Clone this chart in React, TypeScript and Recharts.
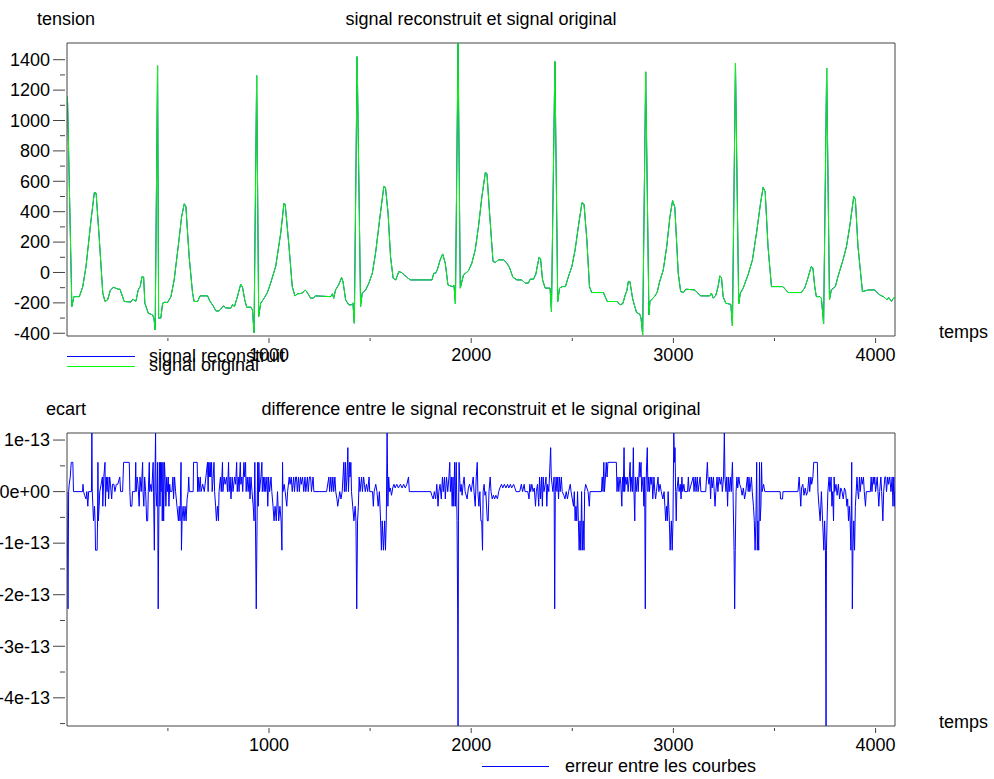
import { LineChart, Line, XAxis, YAxis, ReferenceLine } from 'recharts'

// Scilab style figure: ECG signal (original vs reconstructed) and the error between them.
const FONT = "'Liberation Sans', Arial, Helvetica, sans-serif"

// sample index, tension
const signalOriginal: [number, number][] = [
  [1, 1160], [4, 1120], [25, -224], [35, -159], [62, -159], [79, -93], [95, 39], [120, 346], [136, 526], [145, 522],
  [161, 215], [178, -136], [189, -191], [202, -180], [215, -119], [230, -97], [255, -110], [263, -110], [284, -191], [317, -194],
  [327, -176], [342, -189], [353, -115], [363, -93], [372, -27], [380, -30], [386, -202], [403, -268], [424, -279], [431, -301],
  [437, -378], [449, 1360], [454, -301], [465, -300], [474, -202], [485, -196], [498, -198], [515, -159], [531, -49], [551, 171],
  [568, 368], [581, 452], [589, 434], [605, 105], [622, -136], [630, -191], [647, -191], [659, -154], [696, -154], [708, -189],
  [726, -224], [737, -253], [753, -253], [775, -220], [786, -233], [811, -235], [820, -211], [829, -225], [844, -159], [860, -77],
  [869, -97], [880, -180], [890, -229], [910, -228], [918, -246], [926, -396], [939, 1295], [949, -290], [959, -202], [976, -169],
  [992, -132], [1008, -70], [1033, 39], [1058, 259], [1074, 456], [1080, 450], [1099, 171], [1115, -93], [1128, -154], [1141, -141],
  [1165, -136], [1178, -115], [1186, -125], [1206, -169], [1218, -169], [1231, -154], [1305, -159], [1314, -140], [1320, -170], [1329, -115],
  [1345, -80], [1359, -33], [1366, -60], [1379, -180], [1395, -213], [1408, -213], [1415, -200], [1422, -334], [1436, 1420], [1453, -224],
  [1461, -136], [1478, -115], [1494, -70], [1511, -5], [1527, 127], [1551, 390], [1568, 566], [1576, 560], [1589, 390], [1601, 105],
  [1614, -38], [1627, -49], [1642, 6], [1655, 0], [1669, -15], [1680, -30], [1699, -49], [1806, -49], [1815, -5], [1824, -5],
  [1833, 20], [1846, 80], [1859, 122], [1872, 60], [1885, -82], [1907, -93], [1915, -85], [1922, -207], [1935, 1510], [1946, -103],
  [1962, -16], [1986, 10], [2003, 61], [2020, 149], [2036, 302], [2053, 500], [2070, 658], [2078, 650], [2091, 390], [2108, 72],
  [2120, 67], [2135, 83], [2160, 83], [2177, 61], [2190, 30], [2206, -31], [2226, -49], [2250, -49], [2267, -70], [2283, -70],
  [2292, -44], [2308, -44], [2320, -10], [2325, 28], [2336, 101], [2343, 90], [2353, -49], [2366, -103], [2390, -103], [2397, -257],
  [2414, 1388], [2428, -191], [2437, -103], [2450, -93], [2466, -93], [2481, -27], [2498, 39], [2514, 149], [2530, 302], [2548, 460],
  [2558, 450], [2572, 215], [2585, -93], [2596, -132], [2654, -132], [2673, -191], [2722, -191], [2736, -213], [2750, -205], [2762, -147],
  [2770, -120], [2777, -60], [2785, -60], [2798, -169], [2806, -210], [2818, -264], [2834, -275], [2840, -300], [2848, -411], [2863, 1320],
  [2879, -279], [2884, -191], [2909, -154], [2920, -130], [2930, -70], [2950, 17], [2967, 171], [2983, 368], [2996, 473], [3007, 430],
  [3024, -5], [3036, -126], [3049, -132], [3062, -110], [3106, -115], [3134, -154], [3180, -154], [3188, -135], [3197, -169], [3210, -150],
  [3221, -93], [3230, -22], [3238, -35], [3246, -159], [3259, -202], [3284, -210], [3292, -352], [3307, 1378], [3323, -207], [3331, -136],
  [3345, -103], [3369, -16], [3391, 83], [3411, 259], [3431, 456], [3444, 561], [3454, 530], [3468, 171], [3485, -93], [3542, -93],
  [3567, -132], [3633, -132], [3650, -100], [3665, -38], [3682, 39], [3690, 30], [3699, -93], [3707, -159], [3724, -159], [3732, -170],
  [3743, -338], [3758, 1345], [3772, -180], [3781, -115], [3801, -93], [3814, -27], [3839, 83], [3856, 171], [3872, 302], [3892, 500],
  [3900, 480], [3913, 171], [3935, -126], [3963, -115], [3995, -115], [4019, -147], [4040, -160], [4056, -180], [4065, -165], [4079, -190],
  [4083, -180], [4093, -163], [4096, -170],
]

// the reconstruction differs by ~1e-13 only, so on this scale it is the same curve
const signalReconstruit = signalOriginal

// sample index, ecart in units of 1e-13
const ecart: [number, number][] = [
  [1, 0], [6, -2.274], [9, 0], [12, 0.142], [17, 0.284], [22, 0.568], [30, 0.568], [33, 0],
  [78, 0], [80, 0.142], [83, 0], [88, -0.071], [95, -0.142], [99, 0], [104, -0.284], [108, 0],
  [122, 0], [124, 1.137], [126, 0], [132, -0.568], [137, -0.284], [140, -0.568], [142, -1.137], [150, -1.137], [152, -0.568], [154, 0.568],
  [156, -0.568], [160, -0.284], [163, 0], [170, 0.142], [176, 0.284], [178, -0.284], [183, 0.284], [189, 0.568], [191, -0.284], [195, 0.284],
  [199, 0], [203, 0.284], [207, -0.142], [212, 0.284], [216, 0.142], [222, -0.142], [226, 0.142], [233, 0.142], [238, 0], [245, 0.142],
  [252, 0.142], [262, 0.284], [266, 0], [276, 0], [281, 0.568], [309, 0.568], [312, 0], [315, -0.284], [322, -0.284], [325, 0],
  [338, 0], [341, 0.568], [343, 0], [348, 0.284], [352, 0.142], [358, -0.284], [362, 0.284], [368, 0], [375, 0.568], [377, 0],
  [381, -0.284], [385, 0.284], [390, 0], [395, -0.568], [400, -0.568], [403, 0], [408, 0.568], [410, 0], [416, 0.142], [420, 0],
  [427, 0.568], [429, 0], [433, -1.137], [436, 0.284], [439, 1.137], [441, 0], [445, -0.284], [449, 0.568], [452, -2.274], [455, -0.568],
  [458, 0.568], [461, -0.284], [464, 0.568], [466, 0], [470, 0.568], [472, -0.568], [476, 0.568], [479, -0.568], [483, 0.568], [486, 0.284],
  [490, -0.284], [494, 0.284], [498, 0], [502, 0.284], [505, -0.284], [509, 0.142], [512, 0], [520, 0], [525, 0.284], [528, -0.142],
  [533, 0.284], [538, 0], [545, -0.284], [552, -0.568], [556, -0.284], [560, -0.568], [565, 0.568], [567, -1.137], [570, -0.568], [575, -0.284],
  [580, -0.568], [585, -0.284], [590, -0.568], [595, -0.142], [600, 0], [603, 0.284], [606, 0], [625, 0], [627, 0.568], [645, 0.568],
  [647, 0], [650, 0.284], [654, 0], [660, 0.284], [664, 0], [672, 0.142], [680, 0], [696, 0.568], [699, 0], [702, 0.568],
  [705, 0.284], [709, 0.568], [712, 0.284], [716, 0.568], [719, 0], [724, 0.284], [728, 0.568], [731, 0], [736, -0.284], [740, -0.568],
  [745, -0.284], [750, -0.568], [753, 0], [760, 0.284], [764, 0], [770, 0.568], [772, 0], [778, 0.284], [783, 0.142], [790, 0.284],
  [795, 0], [800, 0.568], [803, 0], [808, 0.284], [812, -0.142], [818, 0.284], [822, 0], [830, 0.284], [835, 0.142], [840, 0.568],
  [843, 0], [848, 0.284], [852, 0], [858, 0.568], [861, 0.142], [866, 0.284], [870, 0], [876, 0.568], [879, 0.284], [884, 0.568],
  [887, 0], [892, 0.284], [897, 0], [902, 0.284], [906, -0.142], [911, 0.284], [916, 0], [922, -0.284], [926, -0.568], [930, 0.568],
  [933, -0.568], [937, -2.274], [941, -0.568], [944, 0.568], [947, -0.284], [950, 0.568], [953, 0], [960, 0.284], [965, 0.568], [967, 0],
  [972, 0.284], [976, 0], [980, 0.284], [984, 0], [990, 0.284], [994, -0.284], [998, 0.284], [1003, 0], [1010, 0.284], [1014, 0],
  [1020, -0.284], [1025, -0.568], [1030, -0.284], [1036, -0.568], [1042, 0], [1048, -0.568], [1054, -0.284], [1060, -0.568], [1064, -1.137], [1067, 0.568],
  [1069, 0], [1075, 0.142], [1080, 0], [1088, -0.284], [1092, 0], [1100, 0.284], [1104, 0.142], [1110, 0.284], [1115, 0], [1122, 0.284],
  [1126, 0], [1132, 0.284], [1136, 0.284], [1140, 0], [1146, 0.284], [1150, 0], [1156, 0.284], [1160, 0.142], [1166, 0.284], [1172, 0],
  [1178, 0.284], [1182, 0], [1190, 0.284], [1194, 0], [1200, 0.284], [1206, 0.284], [1210, 0], [1218, 0.284], [1222, 0], [1285, 0],
  [1296, 0.284], [1300, 0], [1306, 0.284], [1310, 0], [1316, 0.284], [1320, 0], [1326, 0.284], [1330, 0], [1336, -0.142], [1340, -0.284],
  [1345, -0.142], [1350, 0], [1356, -0.142], [1362, 0], [1370, 0.568], [1373, 0], [1378, 0.568], [1381, 0], [1386, 0.284], [1390, 0.853],
  [1393, 0], [1398, 0.568], [1401, 0.284], [1405, 0.568], [1408, 0], [1414, -0.284], [1420, -0.568], [1426, -0.284], [1430, -0.568], [1434, -2.274],
  [1438, -0.568], [1442, -0.284], [1446, 0.284], [1450, 0], [1458, 0.284], [1462, 0], [1468, 0.284], [1472, 0.142], [1476, 0], [1482, 0.142],
  [1488, 0], [1495, 0.284], [1498, 0], [1512, 0], [1516, -0.284], [1520, 0], [1528, 0.142], [1534, 0], [1540, -0.284], [1546, 0],
  [1552, -0.568], [1556, -1.137], [1560, -0.568], [1566, -1.137], [1572, -0.568], [1576, -1.137], [1580, -0.568], [1584, 1.137], [1586, 0.568], [1588, -0.284],
  [1592, 0.284], [1596, 0], [1600, 0.071], [1606, -0.071], [1612, 0.071], [1618, 0.142], [1624, 0.071], [1632, 0.142], [1640, 0.071], [1650, 0.142],
  [1658, 0.071], [1666, 0.142], [1674, 0.071], [1682, 0.142], [1690, 0.284], [1694, 0], [1800, 0], [1805, -0.071], [1812, -0.142], [1818, 0],
  [1824, -0.142], [1830, 0.142], [1836, -0.284], [1840, 0], [1846, 0.142], [1852, -0.142], [1858, 0.284], [1862, 0], [1868, 0.284], [1872, -0.142],
  [1878, 0.284], [1884, 0], [1890, 0.284], [1894, 0.568], [1897, 0], [1902, 0.284], [1906, -0.284], [1910, 0.284], [1914, -0.284], [1918, 0.568],
  [1922, -0.284], [1926, 0.568], [1930, -0.568], [1933, -2.274], [1935, -4.547], [1937, -0.568], [1940, 0.568], [1943, 0.284], [1946, 0], [1950, 0.142],
  [1955, -0.071], [1960, 0.142], [1965, 0.284], [1970, 0], [1980, -0.142], [1986, 0.071], [1992, 0.142], [2000, 0], [2010, 0.284], [2014, 0],
  [2020, -0.284], [2025, 0.284], [2030, 0.568], [2033, 0], [2038, -0.284], [2043, 0], [2048, -0.568], [2052, -0.568], [2056, -1.137], [2059, 0],
  [2064, 0.142], [2068, -0.071], [2072, 0], [2080, -0.568], [2084, -0.568], [2088, 0], [2094, 0.284], [2098, 0], [2104, -0.142], [2110, -0.071],
  [2116, -0.142], [2122, -0.071], [2130, -0.142], [2136, 0], [2142, 0.071], [2150, 0.142], [2156, 0.071], [2164, 0.142], [2172, 0.071], [2180, 0.142],
  [2186, 0.071], [2194, 0.142], [2200, 0.071], [2210, 0.142], [2216, 0.071], [2222, 0], [2240, 0], [2248, 0.142], [2254, 0], [2262, 0.142],
  [2266, 0], [2280, 0], [2286, -0.142], [2290, 0.142], [2294, 0], [2300, 0.142], [2306, 0], [2312, 0.071], [2318, -0.284], [2322, 0],
  [2328, 0.142], [2334, -0.284], [2338, 0.284], [2343, -0.142], [2348, 0.284], [2352, -0.284], [2356, 0.284], [2360, 0], [2366, 0.142], [2370, 0.284],
  [2374, -0.284], [2378, 0.142], [2384, 0], [2390, 0.568], [2393, 0.853], [2396, 0.284], [2400, 0.142], [2404, 0], [2410, 0.284], [2413, -2.274],
  [2416, 0], [2420, 0.284], [2424, 0], [2428, 0.284], [2432, -0.142], [2436, 0.284], [2440, 0], [2446, 0.284], [2450, 0], [2458, -0.071],
  [2464, -0.142], [2470, 0], [2476, -0.142], [2482, 0], [2490, 0.142], [2494, 0], [2500, -0.142], [2506, -0.284], [2510, 0], [2514, -0.568],
  [2518, -0.284], [2522, -0.568], [2526, 0], [2530, -0.568], [2534, -1.137], [2538, -0.568], [2542, -1.137], [2546, 0], [2550, -1.137], [2554, -0.568],
  [2558, -1.137], [2561, 0], [2566, 0.142], [2572, 0.071], [2578, 0], [2584, -0.284], [2588, 0], [2644, 0], [2648, 0.284], [2652, 0],
  [2656, 0.568], [2659, 0], [2664, 0.284], [2668, 0.568], [2672, 0.284], [2676, 0.568], [2718, 0.568], [2721, 0], [2726, 0.284], [2730, 0],
  [2736, 0.284], [2740, 0.142], [2745, -0.284], [2748, 0.284], [2752, 0], [2756, 0.853], [2759, 0], [2764, 0.284], [2768, 0.142], [2772, 0.284],
  [2776, 0], [2782, 0.284], [2786, 0.568], [2789, 0], [2794, 0.284], [2798, 0], [2802, 0.853], [2805, 0], [2809, -0.568], [2812, 0.284],
  [2816, 0], [2822, 0.284], [2826, 0], [2832, 0.568], [2835, 0.284], [2840, 0.568], [2843, 0], [2850, 0.284], [2854, -0.284], [2858, 0.284],
  [2861, -2.274], [2864, 0], [2868, 0.568], [2871, 0.853], [2874, 0], [2878, 0.284], [2882, 0], [2886, 0.284], [2890, 0.142], [2894, 0.284],
  [2898, -0.142], [2904, 0.284], [2908, 0], [2912, -0.142], [2916, 0], [2924, 0.284], [2928, 0], [2934, 0.142], [2940, 0], [2948, -0.142],
  [2954, 0], [2958, -0.284], [2962, -0.568], [2966, -0.284], [2970, -0.568], [2974, 0], [2980, -0.568], [2984, -1.137], [2990, -0.568], [2994, -1.137],
  [2998, -0.568], [3002, 1.137], [3006, 0.568], [3008, 0.853], [3011, 0], [3014, -0.568], [3017, 0], [3024, 0.284], [3028, 0], [3034, 0.142],
  [3038, -0.142], [3042, 0.284], [3046, 0], [3052, 0.142], [3056, 0], [3070, 0], [3074, 0.284], [3078, 0], [3098, 0.284], [3102, 0],
  [3108, 0.284], [3112, 0], [3118, 0.284], [3122, 0], [3132, 0.284], [3136, 0], [3160, 0], [3164, 0.284], [3168, 0.568], [3171, 0.284],
  [3176, 0.142], [3180, 0.284], [3184, -0.142], [3188, 0.284], [3192, 0.071], [3198, 0.284], [3202, 0], [3206, -0.284], [3210, 0], [3216, 0.284],
  [3220, 0], [3226, 0.284], [3232, 0.142], [3238, 0.284], [3242, 0], [3248, 0.284], [3252, 1.137], [3255, 0.284], [3260, 0], [3264, 0.284],
  [3268, -0.284], [3272, 0.284], [3276, 0], [3282, 0.284], [3286, 0], [3292, 0.568], [3295, 0], [3300, -1.137], [3303, -2.274], [3306, -1.137],
  [3310, 0], [3314, 0.284], [3318, 0.071], [3324, 0.284], [3328, 0.142], [3334, 0.071], [3340, -0.071], [3346, 0.071], [3352, -0.142], [3358, 0],
  [3366, 0.284], [3370, 0], [3374, 0.284], [3378, 0], [3386, 0.284], [3390, 0], [3396, -0.284], [3400, -0.568], [3404, -1.137], [3408, -0.568],
  [3412, 0.568], [3415, -1.137], [3418, -0.568], [3422, -1.137], [3426, 0.568], [3429, -0.568], [3433, -0.284], [3436, 0.568], [3439, 0], [3446, 0.142],
  [3452, 0], [3528, 0], [3530, -0.142], [3540, -0.142], [3542, 0], [3616, 0], [3622, 0.284], [3626, 0], [3630, -0.284], [3634, 0.071],
  [3640, 0.142], [3646, -0.071], [3652, 0.071], [3658, -0.071], [3664, 0], [3670, 0.284], [3674, 0], [3680, 0.284], [3684, 0.142], [3690, 0.284],
  [3694, 0.568], [3712, 0.568], [3715, 0], [3720, -0.284], [3726, -0.568], [3732, 0], [3738, -0.568], [3744, -1.137], [3748, -0.568], [3752, -1.137],
  [3755, -4.547], [3757, -1.137], [3760, -0.568], [3764, 0], [3770, 0.284], [3774, 0], [3780, 0.284], [3784, -0.284], [3788, 0], [3792, -0.568],
  [3795, 0.284], [3798, 0], [3804, 0.142], [3810, -0.071], [3816, 0.142], [3822, -0.142], [3828, 0.071], [3834, 0], [3840, -0.142], [3846, 0.071],
  [3852, 0], [3858, -0.284], [3862, -0.142], [3866, -0.568], [3870, -0.284], [3874, -0.568], [3878, -1.137], [3882, 0.568], [3885, -2.274], [3888, -1.137],
  [3892, -0.568], [3896, -1.137], [3900, -0.284], [3904, 0], [3908, 0.284], [3912, 0], [3916, -0.142], [3920, 0.284], [3924, 0], [3930, 0.284],
  [3934, 0.142], [3940, 0.284], [3944, 0], [3950, -0.284], [3954, 0], [3974, 0], [3978, 0.284], [3982, 0], [3988, 0.284], [3992, 0.142],
  [3996, 0.284], [4000, 0], [4008, 0.284], [4012, 0], [4016, -0.284], [4020, 0], [4026, 0.284], [4030, 0], [4036, -0.568], [4040, 0],
  [4046, 0.284], [4050, 0.284], [4054, 0], [4060, 0.284], [4064, 0.142], [4070, 0.284], [4076, 0], [4082, 0.284], [4086, -0.284], [4090, 0.284],
  [4094, -0.284], [4096, 0],
]

const xTicks = [500, 1000, 1500, 2000, 2500, 3000, 3500, 4000]
const tensionTicks = [-400, -300, -200, -100, 0, 100, 200, 300, 400, 500, 600, 700, 800, 900, 1000, 1100, 1200, 1300, 1400]
const ecartTicks = [-4.5, -4, -3.5, -3, -2.5, -2, -1.5, -1, -0.5, 0, 0.5, 1]

const AXIS = '#444'

const signalData = signalOriginal.map(([t, v], i) => ({ t, original: v, reconstruit: signalReconstruit[i][1] }))
const ecartData = ecart.map(([t, e]) => ({ t, e }))

function XTick(props: any) {
  const { x, y, payload } = props
  const major = payload.value % 1000 === 0
  return (
    <g>
      <line x1={x} x2={x} y1={y} y2={y + (major ? 5 : 3)} stroke={AXIS} />
      {major && (
        <text x={x} y={y + 23} textAnchor="middle" fontSize={18} fontFamily={FONT} fill="#000">
          {payload.value}
        </text>
      )}
    </g>
  )
}

function YTick(props: any) {
  const { x, y, payload, isMajor, format } = props
  const major = isMajor(payload.value)
  return (
    <g>
      <line x1={x - (major ? 12 : 5)} x2={x} y1={y} y2={y} stroke={AXIS} />
      {major && (
        <text x={x - 15} y={y} dy="0.35em" textAnchor="end" fontSize={18} fontFamily={FONT} fill="#000">
          {format(payload.value)}
        </text>
      )}
    </g>
  )
}

const fmtEcart = (v: number) => (v === 0 ? '0e+00' : `${v}e-13`)

export default function App() {
  return (
    <div style={{ position: 'absolute', left: 0, top: 0, width: 994, height: 779, background: '#fff', overflow: 'hidden' }}>
      <div style={{ position: 'absolute', left: 0, top: 0 }}>
        <LineChart width={994} height={390} data={signalData} margin={{ top: 43, right: 99, bottom: 0, left: 0 }}>
          <XAxis
            dataKey="t"
            type="number"
            domain={[1, 4096]}
            ticks={xTicks}
            interval={0}
            height={54}
            tickSize={0}
            tickLine={false}
            axisLine={{ stroke: AXIS }}
            tick={(p: any) => <XTick {...p} />}
            allowDataOverflow
          />
          <YAxis
            type="number"
            domain={[-418, 1510]}
            ticks={tensionTicks}
            interval={0}
            width={67}
            tickSize={0}
            tickLine={false}
            axisLine={{ stroke: AXIS }}
            tick={(p: any) => <YTick {...p} isMajor={(v: number) => v % 200 === 0} format={(v: number) => String(v)} />}
            allowDataOverflow
          />
          <ReferenceLine y={1510} stroke={AXIS} />
          <ReferenceLine x={4096} stroke={AXIS} />
          <Line type="linear" dataKey="reconstruit" stroke="#0000ff" strokeWidth={1} dot={false} isAnimationActive={false} />
          <Line type="linear" dataKey="original" stroke="#00ff00" strokeWidth={1} dot={false} isAnimationActive={false} />
        </LineChart>
      </div>
      <div style={{ position: 'absolute', left: 0, top: 390 }}>
        <LineChart width={994} height={389} data={ecartData} margin={{ top: 43, right: 99, bottom: 0, left: 0 }}>
          <XAxis
            dataKey="t"
            type="number"
            domain={[1, 4096]}
            ticks={xTicks}
            interval={0}
            height={53}
            tickSize={0}
            tickLine={false}
            axisLine={{ stroke: AXIS }}
            tick={(p: any) => <XTick {...p} />}
            allowDataOverflow
          />
          <YAxis
            type="number"
            domain={[-4.547, 1.137]}
            ticks={ecartTicks}
            interval={0}
            width={67}
            tickSize={0}
            tickLine={false}
            axisLine={{ stroke: AXIS }}
            tick={(p: any) => <YTick {...p} isMajor={(v: number) => Number.isInteger(v)} format={fmtEcart} />}
            allowDataOverflow
          />
          <ReferenceLine y={1.137} stroke={AXIS} />
          <ReferenceLine x={4096} stroke={AXIS} />
          <Line type="linear" dataKey="e" stroke="#0000ff" strokeWidth={1} dot={false} isAnimationActive={false} />
        </LineChart>
      </div>
      <svg width={994} height={779} style={{ position: 'absolute', left: 0, top: 0, pointerEvents: 'none' }}>
        <g fontFamily={FONT} fontSize={18} fill="#000">
          <text x={37} y={25}>tension</text>
          <text x={481} y={25} textAnchor="middle">signal reconstruit et signal original</text>
          <text x={939} y={338}>temps</text>
          <line x1={67} x2={135} y1={356.5} y2={356.5} stroke="#0000ff" />
          <text x={149} y={362}>signal reconstruit</text>
          <line x1={67} x2={135} y1={366.5} y2={366.5} stroke="#00ff00" />
          <text x={149} y={371}>signal original</text>
          <text x={46} y={415}>ecart</text>
          <text x={481} y={415} textAnchor="middle">difference entre le signal reconstruit et le signal original</text>
          <text x={939} y={728}>temps</text>
          <line x1={482} x2={549} y1={766.5} y2={766.5} stroke="#0000ff" />
          <text x={565} y={772}>erreur entre les courbes</text>
        </g>
      </svg>
    </div>
  )
}
